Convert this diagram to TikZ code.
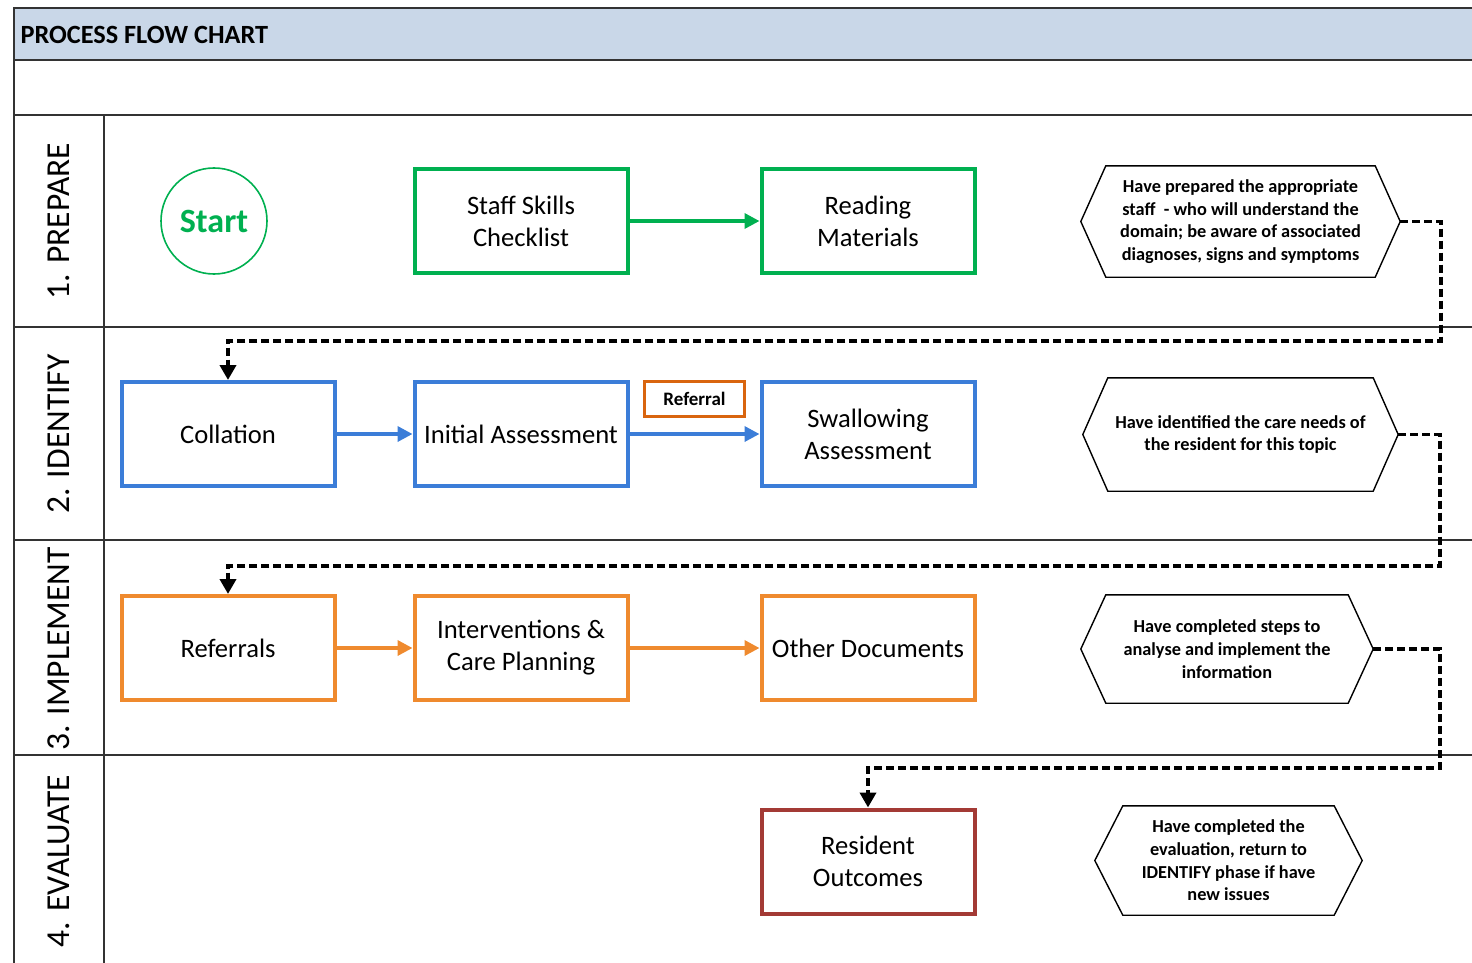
\documentclass[tikz,border=0pt]{standalone}
\usepackage{fontspec}
\setmainfont{Carlito}
\usetikzlibrary{arrows.meta}
\definecolor{cgreen}{HTML}{00B050}
\definecolor{cblue}{HTML}{3B7DD8}
\definecolor{corange}{HTML}{EF8A2E}
\definecolor{cref}{HTML}{D9650F}
\definecolor{cred}{HTML}{A33A35}
\definecolor{chead}{HTML}{C9D7E8}
\definecolor{cgrid}{HTML}{333333}
\begin{document}
\begin{tikzpicture}[x=1pt,y=-1pt,
  grid/.style={draw=cgrid,line width=1.8pt},
  procbox/.style={draw=#1,line width=4pt,minimum width=213pt,minimum height=104pt,inner sep=0pt,align=center,font=\fontsize{26.6}{32}\selectfont},
  hexnode/.style={inner sep=0pt,align=center,font=\bfseries\fontsize{18.3}{22.7}\selectfont},
  hexline/.style={draw=black,line width=1.4pt},
  flow/.style={draw=#1,line width=3.5pt,-{Triangle[length=15pt,width=15pt]}},
  dotconn/.style={draw=black,line width=3.8pt,dash pattern=on 8pt off 4pt,-{Triangle[length=15pt,width=16pt]}},
  lanelabel/.style={rotate=90,font=\fontsize{33.5}{36}\selectfont}
]
\useasboundingbox (0,0) rectangle (1472,963);
% frame and header
\fill[chead] (14,8) rectangle (1472,60);
\node[anchor=west,font=\bfseries\fontsize{26.3}{28}\selectfont] (title) at (17,35) {PROCESS FLOW CHART};
\draw[grid] (1472,8) -- (14,8) -- (14,963);
\draw[grid] (14,60) -- (1472,60);
\draw[grid] (14,115) -- (1472,115);
\draw[grid] (14,327) -- (1472,327);
\draw[grid] (14,540) -- (1472,540);
\draw[grid] (14,755) -- (1472,755);
\draw[grid] (104,115) -- (104,963);
% lane labels
\node[lanelabel] (l1) at (59,221) {1. PREPARE};
\node[lanelabel] (l2) at (59,434) {2. IDENTIFY};
\node[lanelabel] (l3) at (59,649) {3. IMPLEMENT};
\node[lanelabel] (l4) at (59,861) {4. EVALUATE};
% row 1
\node[circle,draw=cgreen,line width=1.6pt,minimum size=106pt,inner sep=0pt,text=cgreen,font=\bfseries\fontsize{34}{36}\selectfont] (start) at (214,221) {Start};
\node[procbox=cgreen] (staff) at (521,221) {Staff Skills\\Checklist};
\node[procbox=cgreen] (read) at (868,221) {Reading\\Materials};
\draw[flow=cgreen] (staff) -- (read);
\node[hexnode,minimum width=319pt,minimum height=111pt] (h1) at (1240.5,221.5) {Have prepared the appropriate\\staff\ \ - who will understand the\\domain; be aware of associated\\diagnoses, signs and symptoms};
\draw[hexline] (h1.west) -- ([xshift=25pt]h1.north west) -- ([xshift=-25pt]h1.north east) -- (h1.east) -- ([xshift=-25pt]h1.south east) -- ([xshift=25pt]h1.south west) -- cycle;
% row 2
\node[procbox=cblue] (coll) at (228,434) {Collation};
\node[procbox=cblue] (init) at (521,434) {Initial Assessment};
\node[procbox=cblue] (swal) at (868,434) {Swallowing\\Assessment};
\node[draw=cref,line width=3.5pt,minimum width=100pt,minimum height=35pt,inner sep=0pt,font=\bfseries\fontsize{19}{22}\selectfont] (refl) at (694.5,399) {Referral};
\draw[flow=cblue] (coll) -- (init);
\draw[flow=cblue] (init) -- (swal);
\node[hexnode,minimum width=315pt,minimum height=113pt] (h2) at (1240.5,434.5) {Have identified the care needs of\\the resident for this topic};
\draw[hexline] (h2.west) -- ([xshift=25pt]h2.north west) -- ([xshift=-25pt]h2.north east) -- (h2.east) -- ([xshift=-25pt]h2.south east) -- ([xshift=25pt]h2.south west) -- cycle;
% row 3
\node[procbox=corange] (refs) at (228,648) {Referrals};
\node[procbox=corange] (intv) at (521,648) {Interventions \&\\Care Planning};
\node[procbox=corange] (othr) at (868,648) {Other Documents};
\draw[flow=corange] (refs) -- (intv);
\draw[flow=corange] (intv) -- (othr);
\node[hexnode,minimum width=292pt,minimum height=108pt] (h3) at (1227,649) {Have completed steps to\\analyse and implement the\\information};
\draw[hexline] (h3.west) -- ([xshift=25pt]h3.north west) -- ([xshift=-25pt]h3.north east) -- (h3.east) -- ([xshift=-25pt]h3.south east) -- ([xshift=25pt]h3.south west) -- cycle;
% row 4
\node[procbox=cred] (res) at (868,861.5) {Resident\\Outcomes};
\node[hexnode,minimum width=267pt,minimum height=109pt] (h4) at (1228.5,860.5) {Have completed the\\evaluation, return to\\IDENTIFY phase if have\\new issues};
\draw[hexline] (h4.west) -- ([xshift=28pt]h4.north west) -- ([xshift=-28pt]h4.north east) -- (h4.east) -- ([xshift=-28pt]h4.south east) -- ([xshift=28pt]h4.south west) -- cycle;
% dotted connectors
\coordinate (t1) at (1441,341);
\coordinate (t2) at (1440,566);
\coordinate (t3) at (1440,768);
\draw[dotconn] (h1.east) -| (t1) -| (coll.north);
\draw[dotconn] (h2.east) -| (t2) -| (refs.north);
\draw[dotconn] (h3.east) -| (t3) -| (res.north);
\end{tikzpicture}
\end{document}
